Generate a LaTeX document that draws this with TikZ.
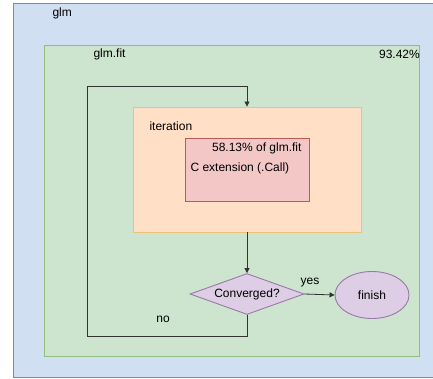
\documentclass[tikz,border=0pt]{standalone}
\usepackage{fontspec}
\setmainfont{Liberation Sans}
\usetikzlibrary{shapes.geometric,arrows.meta}
\definecolor{glmfill}{RGB}{208,223,242}
\definecolor{glmline}{RGB}{108,142,191}
\definecolor{fitfill}{RGB}{205,228,207}
\definecolor{fitline}{RGB}{145,190,120}
\definecolor{iterfill}{RGB}{255,223,198}
\definecolor{iterline}{RGB}{232,195,120}
\definecolor{cfill}{RGB}{244,199,199}
\definecolor{cline}{RGB}{190,90,88}
\definecolor{decfill}{RGB}{221,206,229}
\definecolor{decline}{RGB}{155,120,170}
\definecolor{edgecolor}{RGB}{50,50,50}
\newcommand{\boxlw}{0.9pt}

\begin{document}
\begin{tikzpicture}[x=1pt, y=-1pt, >={Triangle[length=5pt, width=5pt]},
    font=\fontsize{12}{14}\selectfont]
    \useasboundingbox (0, 0) rectangle (433, 378);

    \coordinate (loopbl) at (87, 336);
    \coordinate (looptl) at (87, 86);

    % frames
    \node [draw=glmline, fill=glmfill, line width=\boxlw, minimum width=440pt, minimum height=374pt] (glm) at (233, 190) {};
    \node [draw=fitline, fill=fitfill, line width=\boxlw, minimum width=375pt, minimum height=311.5pt] (fit) at (231.5, 200.75) {};
    \node [draw=iterline, fill=iterfill, line width=\boxlw, minimum width=228pt, minimum height=125pt] (iter) at (247, 169.5) {};
    \node [draw=cline, fill=cfill, line width=\boxlw, minimum width=124pt, minimum height=63pt] (cext) at (247, 169.5) {};

    % decision and end
    \node [diamond, draw=decline, fill=decfill, line width=\boxlw, aspect=2.8, inner sep=0pt, minimum width=114pt, minimum height=41pt] (conv) at (247, 294) {Converged?};
    \node [ellipse, draw=decline, fill=decfill, line width=\boxlw, minimum width=74pt, minimum height=47pt] (fin) at (372, 295) {finish};

    % texts
    \node [anchor=west] (glmlabel) at (49, 13) {glm};
    \node [anchor=west] (fitlabel) at (90, 54) {glm.fit};
    \node [anchor=east, inner xsep=0pt] (fitpct) at (420, 54) {93.42\%};
    \node [anchor=west] (iterlabel) at (146, 126) {iteration};
    \node [anchor=east] (cpct) at (305, 148) {58.13\% of glm.fit};
    \node [anchor=west] (clabel) at (187, 168) {C extension (.Call)};

    % connectors
    \draw [->, edgecolor, line width=0.8pt] (iter.south) -- (conv.north);
    \draw [->, edgecolor, line width=0.8pt] (conv.east) -- (fin.west);
    \draw [->, edgecolor, line width=0.8pt] (conv.south) |- (loopbl) -- (looptl) -| (iter.north);
    \node (yes) at (310, 283) {yes};
    \node (no) at (163, 319) {no};
\end{tikzpicture}
\end{document}
